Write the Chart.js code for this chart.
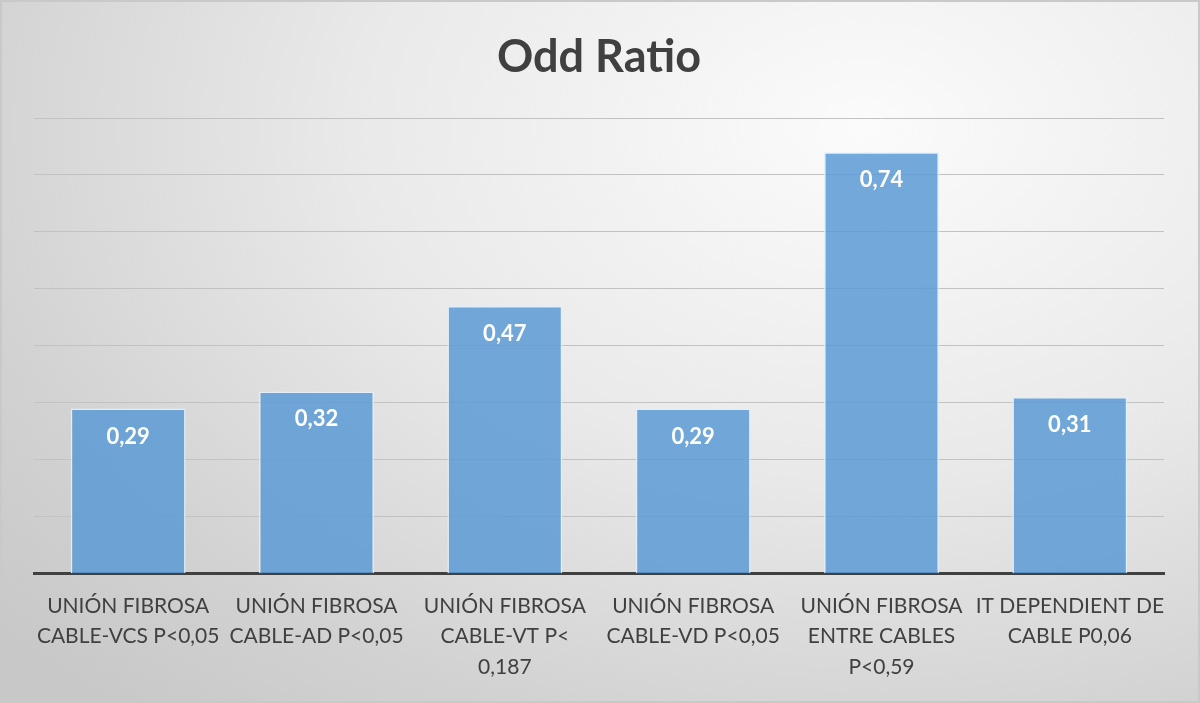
<!DOCTYPE html>
<html>
<head>
<meta charset="utf-8">
<script src="https://cdn.jsdelivr.net/npm/chart.js@4"></script>
<style>
  html, body { margin: 0; padding: 0; background: #fff; }
  .frame {
    position: relative;
    width: 1200px; height: 703px;
    box-sizing: border-box;
    border: 2px solid #c9c9c9;
    background: radial-gradient(ellipse 95% 110% at 72% 18%, #fbfbfb 0%, #e9e9e9 45%, #d2d2d2 80%, #c8c8c8 100%);
  }
  canvas { position: absolute; left: -2px; top: -2px; }
</style>
</head>
<body>
<div class="frame"><canvas id="oddChart" width="1200" height="703"></canvas></div>
<script>
// 数据
const categories = [
  ['UNIÓN FIBROSA', 'CABLE-VCS P<0,05'],
  ['UNIÓN FIBROSA', 'CABLE-AD P<0,05'],
  ['UNIÓN FIBROSA', 'CABLE-VT P<', '0,187'],
  ['UNIÓN FIBROSA', 'CABLE-VD P<0,05'],
  ['UNIÓN FIBROSA', 'ENTRE CABLES', 'P<0,59'],
  ['IT DEPENDIENT DE', 'CABLE P0,06']
];
const oddRatios = [0.29, 0.32, 0.47, 0.29, 0.74, 0.31];
const yMax = 0.8;
const yStep = 0.1;

const FONT = "Lato, 'Open Sans', sans-serif";

/** 柱内数值标签 */
const valueLabels = {
  id: 'valueLabels',
  afterDatasetsDraw(chart) {
    const ctx = chart.ctx;
    const meta = chart.getDatasetMeta(0);
    ctx.save();
    ctx.fillStyle = '#ffffff';
    ctx.font = `bold 22px ${FONT}`;
    ctx.textAlign = 'center';
    ctx.textBaseline = 'middle';
    meta.data.forEach((bar, i) => {
      const txt = oddRatios[i].toFixed(2).replace('.', ',');
      ctx.fillText(txt, bar.x, bar.y + 28);
    });
    ctx.restore();
  }
};

new Chart(document.getElementById('oddChart'), {
  type: 'bar',
  data: {
    labels: categories,
    datasets: [{
      label: 'Odd Ratio',
      data: oddRatios,
      backgroundColor: 'rgba(91,155,213,0.85)',
      borderColor: 'rgba(225,238,250,0.95)',
      borderWidth: 1.5,
      barPercentage: 0.61,
      categoryPercentage: 1
    }]
  },
  options: {
    responsive: false,
    animation: false,
    layout: { padding: { left: 34, right: 36, top: 10, bottom: 4 } },
    plugins: {
      legend: { display: false },
      tooltip: { enabled: false },
      title: {
        display: true,
        text: 'Odd Ratio',
        color: '#404040',
        font: { family: FONT, size: 45, weight: 'bold', lineHeight: 1.2 },
        padding: { top: 20, bottom: 34 }
      }
    },
    scales: {
      x: {
        grid: { display: false, drawTicks: false },
        border: { display: true, color: '#404040', width: 3 },
        ticks: {
          color: '#404040',
          padding: 17,
          maxRotation: 0,
          autoSkip: false,
          font: { family: FONT, size: 21, lineHeight: 1.45 }
        }
      },
      y: {
        min: 0,
        max: yMax,
        ticks: { display: false, stepSize: yStep },
        grid: { color: '#c2c2c2', lineWidth: 1, drawTicks: false },
        border: { display: false }
      }
    }
  },
  plugins: [valueLabels]
});
</script>
</body>
</html>
